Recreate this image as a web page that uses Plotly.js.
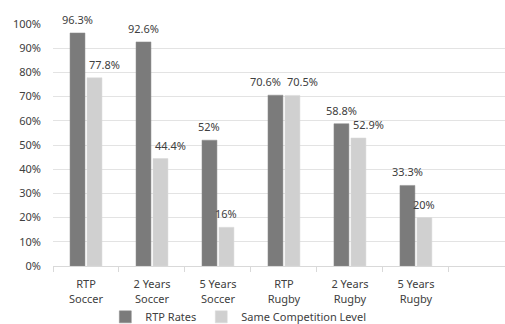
<!DOCTYPE html>
<html>
<head>
<meta charset="utf-8">
<script src="https://cdn.plot.ly/plotly-3.0.1.min.js"></script>
<style>html,body{margin:0;padding:0;background:#fff;}#chart{width:505px;height:324px;}</style>
</head>
<body>
<div id="chart"></div>
<script>
const categories = ["RTP<br>Soccer", "2 Years<br>Soccer", "5 Years<br>Soccer", "RTP<br>Rugby", "2 Years<br>Rugby", "5 Years<br>Rugby"];
const rtpRates = [0.963, 0.926, 0.52, 0.706, 0.588, 0.333];
const rtpLabels = ["96.3%", "92.6%", "52%", "70.6%", "58.8%", "33.3%"];
const sameLevel = [0.778, 0.444, 0.16, 0.705, 0.529, 0.20];
const sameLabels = ["77.8%", "44.4%", "16%", "70.5%", "52.9%", "20%"];
const yTicks = [0, 0.1, 0.2, 0.3, 0.4, 0.5, 0.6, 0.7, 0.8, 0.9, 1.0];
const yTickText = ["0%", "10%", "20%", "30%", "40%", "50%", "60%", "70%", "80%", "90%", "100%"];

const font = {family: "Noto Sans, Open Sans, sans-serif", size: 11, color: "#404040"};

// label placement styles (Excel-like manual positioning of data labels)
const rtpAnchor  = ["center", "center", "center", "right", "center", "center"];
const sameAnchor = ["left", "left", "center", "left", "left", "center"];
const slot = 8.5; // half of a group's bar slot, in px

const traces = [
  {type: "bar", name: "RTP Rates", x: categories, y: rtpRates,
   marker: {color: "#7b7b7b", line: {color: "#8c8c8c", width: 0.5}}, hoverinfo: "none"},
  {type: "bar", name: "Same Competition Level", x: categories, y: sameLevel,
   marker: {color: "#d0d0d0", line: {color: "#dadada", width: 0.5}}, hoverinfo: "none"}
];

function shiftFor(anchor, center) {
  if (anchor === "left") return center - 7.5;
  if (anchor === "right") return center + 7.5;
  return center;
}
const annotations = [];
categories.forEach((c, i) => {
  annotations.push({x: c, y: rtpRates[i], xref: "x", yref: "y", text: rtpLabels[i],
    showarrow: false, xanchor: rtpAnchor[i], yanchor: "bottom",
    xshift: shiftFor(rtpAnchor[i], -slot), yshift: 4, font: font});
  annotations.push({x: c, y: sameLevel[i], xref: "x", yref: "y", text: sameLabels[i],
    showarrow: false, xanchor: sameAnchor[i], yanchor: "bottom",
    xshift: shiftFor(sameAnchor[i], slot), yshift: 4, font: font});
});

const layout = {
  width: 505, height: 324,
  margin: {l: 53, r: 0, t: 24, b: 58},
  paper_bgcolor: "#fff", plot_bgcolor: "#fff",
  font: font,
  barmode: "group", bargap: 0.485, bargroupgap: 0.12,
  annotations: annotations,
  showlegend: true,
  legend: {orientation: "h", x: 0.41, xanchor: "center", xref: "paper",
           y: 0.022, yref: "container", yanchor: "middle",
           bgcolor: "rgba(0,0,0,0)", font: font, tracegroupgap: 0},
  xaxis: {type: "category", range: [-0.5, 6.35], tickson: "boundaries",
          ticks: "outside", ticklen: 5, tickcolor: "#d9d9d9", automargin: false,
          showline: true, linecolor: "#d9d9d9", linewidth: 1, ticklabelstandoff: 8,
          showgrid: false, tickfont: font, fixedrange: true},
  yaxis: {range: [0, 1.0], tickvals: yTicks, ticktext: yTickText, automargin: false,
          showgrid: true, gridcolor: "#e3e3e3", gridwidth: 1,
          zeroline: false, showline: false, ticks: "", ticklabelstandoff: 11,
          tickfont: font, fixedrange: true}
};
Plotly.newPlot("chart", traces, layout, {displayModeBar: false, staticPlot: true});
</script>
</body>
</html>
